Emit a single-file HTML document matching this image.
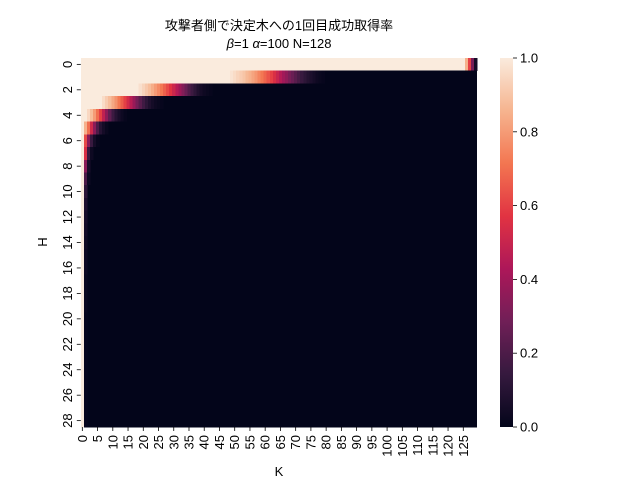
<!DOCTYPE html>
<html><head><meta charset="utf-8">
<style>
body{margin:0;background:#fff;}
svg text{font-family:"Liberation Sans","DejaVu Sans","Noto Sans CJK JP",sans-serif;fill:#000;}
</style></head>
<body>
<svg id="chart" width="640" height="480" viewBox="0 0 640 480" xmlns="http://www.w3.org/2000/svg">
<text x="279" y="30" font-size="13" text-anchor="middle">攻撃者側で決定木への1回目成功取得率</text>
<text x="279" y="48" font-size="13" text-anchor="middle"><tspan font-style="italic">β</tspan>=1  <tspan font-style="italic">α</tspan>=100  N=128</text>
<g id="cells" shape-rendering="crispEdges"></g>
<g id="xaxis"></g>
<g id="yaxis"></g>
<text x="279" y="480" font-size="13" text-anchor="middle" dy="-4">K</text>
<text x="0" y="0" font-size="13" text-anchor="middle" transform="translate(47,242) rotate(-90)">H</text>
<defs><linearGradient id="rocket" x1="0" y1="1" x2="0" y2="0"></linearGradient></defs>
<rect x="500" y="58" width="13" height="369" fill="url(#rocket)"/>
<g id="cbaxis"></g>
</svg>
<script>
const nCols = 130;
const rowLeadingOnes = [126,49,19,7,2,1,1,1,1,1,1,1,1,1,1,1,1,1,1,1,1,1,1,1,1,1,1,1,1];
const rowTransitions = [
 [0.85,0.6,0.3,0.05],
 [0.98,0.96,0.94,0.92,0.9,0.87,0.85,0.82,0.79,0.75,0.72,0.68,0.64,0.6,0.55,0.5,0.45,0.4,0.36,0.31,0.27,0.23,0.19,0.15,0.12,0.09,0.07,0.05,0.03,0.02,0.01],
 [0.97,0.94,0.91,0.88,0.84,0.8,0.76,0.72,0.67,0.62,0.57,0.51,0.45,0.39,0.33,0.27,0.21,0.16,0.12,0.08,0.05,0.03,0.02,0.01],
 [0.96,0.92,0.88,0.83,0.78,0.72,0.66,0.6,0.53,0.46,0.38,0.3,0.23,0.17,0.12,0.08,0.05,0.03,0.02,0.01],
 [0.95,0.88,0.8,0.7,0.6,0.48,0.36,0.25,0.16,0.1,0.06,0.03,0.01],
 [0.85,0.7,0.52,0.35,0.2,0.1,0.05,0.02],
 [0.62,0.35,0.15,0.05,0.01],
 [0.55,0.15,0.03],
 [0.35,0.06],
 [0.2,0.03],[0.12],[0.08],[0.06],[0.05],[0.04],[0.03],[0.03],[0.02],[0.02],[0.02],[0.01],[0.01],[0.01],[0.01],[0.01],[0.01],[0.01],[0.01],[0.01]
];
const xTickLabels = [0,5,10,15,20,25,30,35,40,45,50,55,60,65,70,75,80,85,90,95,100,105,110,115,120,125];
const yTickLabels = [0,2,4,6,8,10,12,14,16,18,20,22,24,26,28];
const cbTickLabels = [0.0,0.2,0.4,0.6,0.8,1.0];

const NS="http://www.w3.org/2000/svg";
const X0=80.8, X1=477, Y0=58, Y1=427;
const nRows=rowLeadingOnes.length;
const cw=(X1-X0)/nCols, rh=(Y1-Y0)/nRows;
const xPos=c=>X0+c*cw, yPos=r=>Y0+r*rh;
const stops=[[0,[3,5,26]],[1/7,[53,25,62]],[2/7,[112,31,87]],[3/7,[173,23,89]],[4/7,[225,51,66]],[5/7,[243,118,81]],[6/7,[246,180,143]],[1,[250,235,221]]];
function color(v){v=Math.max(0,Math.min(1,v));for(let i=1;i<stops.length;i++){if(v<=stops[i][0]){const a=stops[i-1],b=stops[i];const t=(v-a[0])/(b[0]-a[0]);const c=a[1].map((x,k)=>Math.round(x+(b[1][k]-x)*t));return `rgb(${c})`;}}return 'rgb(250,235,221)';}
function mk(tag,attrs,parent){const e=document.createElementNS(NS,tag);for(const k in attrs)e.setAttribute(k,attrs[k]);parent.appendChild(e);return e;}

const cells=document.getElementById('cells');
for(let r=0;r<nRows;r++){
  const vals=[];
  for(let c=0;c<nCols;c++){
    const L=rowLeadingOnes[r],tr=rowTransitions[r];
    vals.push(c<L?1:(c-L<tr.length?tr[c-L]:0));
  }
  const bg=mk('rect',{x:X0,y:yPos(r),width:X1-X0,height:rh+0.5,fill:color(0)},cells);
  
  
  for(let c=0;c<nCols;c++){
    if(vals[c]<=0)continue;
    const e=mk('rect',{x:xPos(c),y:yPos(r),width:cw+0.4,height:rh+0.5,fill:color(vals[c])},cells);
    
    
  }
}
const xa=document.getElementById('xaxis');
xTickLabels.forEach(k=>{
  const x=xPos(k+0.5);
  const t=mk('line',{x1:x,x2:x,y1:Y1,y2:Y1+4,stroke:'#000','stroke-width':0.8},xa);
  
  
  const l=mk('text',{x:0,y:0,'font-size':13,'text-anchor':'end',transform:`translate(${x+4.5},${Y1+8}) rotate(-90)`},xa);
  
  
  l.textContent=k;
});
const ya=document.getElementById('yaxis');
yTickLabels.forEach(h=>{
  const y=yPos(h+0.5);
  const t=mk('line',{x1:X0-4,x2:X0,y1:y,y2:y,stroke:'#000','stroke-width':0.8},ya);
  
  
  const l=mk('text',{x:0,y:0,'font-size':13,'text-anchor':'middle',transform:`translate(${X0-9},${y}) rotate(-90)`},ya);
  
  
  l.textContent=h;
});
const g=document.getElementById('rocket');
stops.forEach(s=>mk('stop',{offset:s[0],'stop-color':`rgb(${s[1]})`},g));
const cb=document.getElementById('cbaxis');
cbTickLabels.forEach(v=>{
  const y=Y1-(Y1-Y0)*v;
  const t=mk('line',{x1:513,x2:517,y1:y,y2:y,stroke:'#000','stroke-width':0.8},cb);
  
  
  const l=mk('text',{x:520,y:y+4.5,'font-size':13},cb);
  
  
  l.textContent=v.toFixed(1);
});
</script>
</body></html>
